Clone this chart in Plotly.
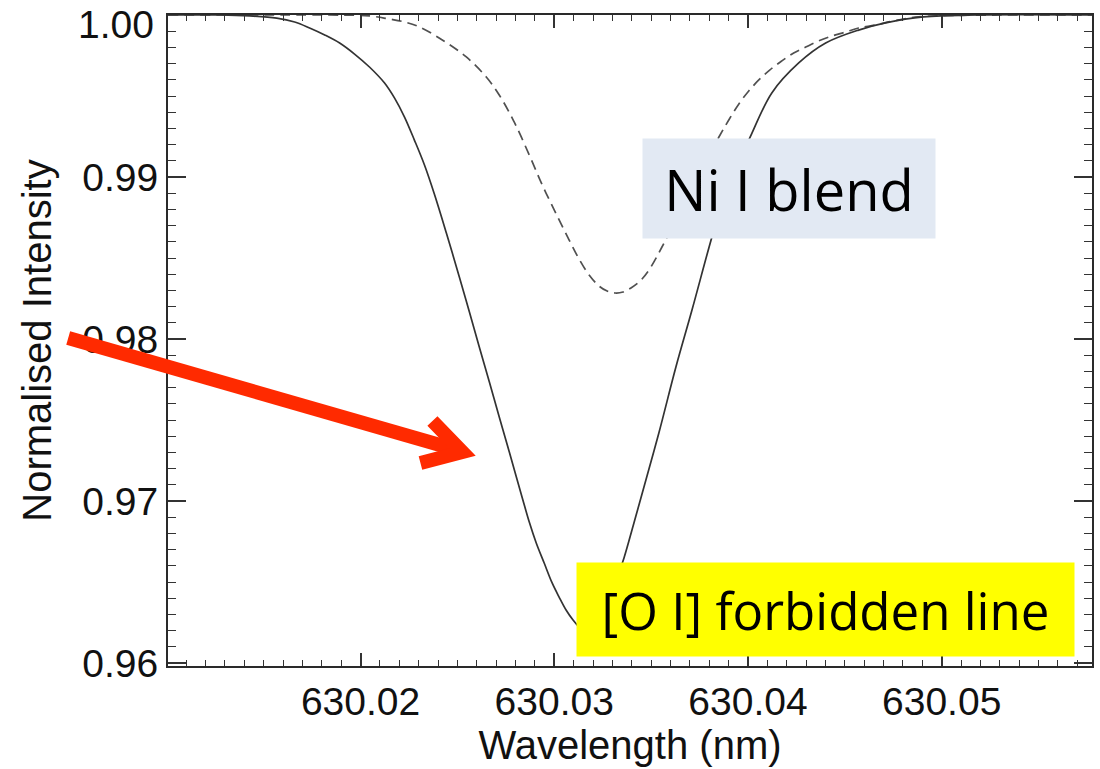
import plotly.graph_objects as go

# Solid profile: [O I] 630.03 nm line blended with Ni I
wl_total = [630.01006, 630.01274, 630.01428, 630.01567, 630.01660, 630.01737, 630.01815,
            630.01892, 630.01969, 630.02046, 630.02124, 630.02175, 630.02227, 630.02278,
            630.02330, 630.02381, 630.02443, 630.02510, 630.02562, 630.02613, 630.02665,
            630.02716, 630.02768, 630.02835, 630.02871, 630.02907, 630.02948, 630.02989,
            630.03025, 630.03061, 630.03097, 630.03128, 630.03154, 630.03190, 630.03231,
            630.03273, 630.03314, 630.03360, 630.03407, 630.03453, 630.03540, 630.03628,
            630.03711, 630.03814, 630.03875, 630.03942, 630.04004, 630.04123, 630.04262,
            630.04401, 630.04571, 630.04710, 630.04906, 630.05189, 630.05776]
int_total = [1.00000, 1.00000, 0.99994, 0.99981, 0.99957, 0.99920, 0.99877,
             0.99827, 0.99759, 0.99679, 0.99580, 0.99488, 0.99370, 0.99228,
             0.99074, 0.98895, 0.98654, 0.98383, 0.98167, 0.97951, 0.97735,
             0.97519, 0.97302, 0.97019, 0.96870, 0.96741, 0.96617, 0.96494,
             0.96407, 0.96327, 0.96265, 0.96222, 0.96198, 0.96216, 0.96272,
             0.96364, 0.96488, 0.96648, 0.96846, 0.97043, 0.97420, 0.97827,
             0.98179, 0.98630, 0.98870, 0.99080, 0.99228, 0.99519, 0.99704,
             0.99827, 0.99907, 0.99951, 0.99988, 1.00000, 1.00000]

# Dashed profile: Ni I blend alone
wl_ni = [630.01006, 630.01840, 630.02046, 630.02149, 630.02227, 630.02304, 630.02422,
         630.02546, 630.02649, 630.02716, 630.02793, 630.02871, 630.02938, 630.03010,
         630.03077, 630.03128, 630.03180, 630.03231, 630.03273, 630.03314, 630.03355,
         630.03396, 630.03443, 630.03489, 630.03556, 630.03618, 630.03695, 630.03772,
         630.03850, 630.03901, 630.03953, 630.04004, 630.04056, 630.04112, 630.04174,
         630.04236, 630.04298, 630.04365, 630.04432, 630.04504, 630.04571, 630.04658,
         630.04751, 630.04880, 630.05292, 630.05776]
int_ni = [1.00000, 1.00000, 0.99994, 0.99975, 0.99957, 0.99926, 0.99846,
          0.99741, 0.99617, 0.99506, 0.99340, 0.99136, 0.98951, 0.98772,
          0.98611, 0.98494, 0.98395, 0.98327, 0.98296, 0.98284, 0.98290,
          0.98315, 0.98358, 0.98426, 0.98568, 0.98716, 0.98901, 0.99074,
          0.99247, 0.99352, 0.99451, 0.99531, 0.99599, 0.99660, 0.99716,
          0.99765, 0.99802, 0.99840, 0.99870, 0.99895, 0.99920, 0.99938,
          0.99963, 0.99988, 1.00000, 1.00000]

x_ticks = [630.02, 630.03, 630.04, 630.05]
x_tick_text = ["630.02", "630.03", "630.04", "630.05"]
y_ticks = [0.96, 0.97, 0.98, 0.99, 1.00]
y_tick_text = ["0.96", "0.97", "0.98", "0.99", ""]   # top label drawn separately (nudged down)
y_top_label = "1.00"

label_ni = "Ni I blend"
label_oi = "[O I] forbidden line"

fig = go.Figure()
fig.add_trace(go.Scatter(x=wl_ni, y=int_ni, mode="lines",
                         line=dict(color="#505050", width=1.7, dash="10px,6px",
                                   shape="spline", smoothing=1.0),
                         showlegend=False))
fig.add_trace(go.Scatter(x=wl_total, y=int_total, mode="lines",
                         line=dict(color="#333333", width=1.7,
                                   shape="spline", smoothing=1.0),
                         showlegend=False))

FONT = "Liberation Sans, Arial, Helvetica, sans-serif"
axis_font = dict(family=FONT, size=39, color="#111111")
title_font = dict(family=FONT, size=40, color="#111111")

fig.update_xaxes(range=[630.01006, 630.05776], tickvals=x_ticks, ticktext=x_tick_text,
                 ticks="inside", ticklen=13, tickwidth=1.5, tickcolor="#333333",
                 minor=dict(dtick=0.001, tick0=630.02, ticks="inside", ticklen=6,
                            tickwidth=1.2, tickcolor="#333333"),
                 showline=True, linecolor="#2a2a2a", linewidth=2, mirror="ticks",
                 showgrid=False, zeroline=False, tickfont=axis_font,
                 title=dict(text="Wavelength (nm)", font=title_font, standoff=7))
fig.update_yaxes(range=[0.959815, 1.0000], tickvals=y_ticks, ticktext=y_tick_text,
                 ticks="inside", ticklen=18, tickwidth=1.5, tickcolor="#333333",
                 minor=dict(dtick=0.001, tick0=0.96, ticks="inside", ticklen=8,
                            tickwidth=1.2, tickcolor="#333333"),
                 showline=True, linecolor="#2a2a2a", linewidth=2, mirror="ticks",
                 showgrid=False, zeroline=False, tickfont=axis_font,
                 title=dict(text="Normalised Intensity", font=title_font, standoff=18))

# plot-area geometry for placing the overlay decorations (pixel -> paper)
L, R, T, B = 168, 1094, 15, 666
def px(xp):
    return (xp - L) / (R - L)
def py(yp):
    return (B - yp) / (B - T)

fig.add_annotation(text=y_top_label, xref="paper", yref="paper",
                   x=px(156), y=py(25), xanchor="right", yanchor="middle",
                   showarrow=False, font=axis_font)

# label boxes
fig.add_annotation(text=label_ni, xref="paper", yref="paper",
                   x=px(790.5), y=py(188.5), xanchor="center", yanchor="middle",
                   width=290, height=97, bgcolor="#e2e9f3", showarrow=False,
                   font=dict(family="Open Sans, sans-serif", size=56, color="#000000"))
fig.add_annotation(text=label_oi, xref="paper", yref="paper",
                   x=px(826.5), y=py(609.5), xanchor="center", yanchor="middle",
                   width=495, height=91, bgcolor="#ffff00", showarrow=False,
                   font=dict(family="Open Sans, sans-serif", size=51, color="#000000"))

# red arrow
red = "#ff2a00"
fig.add_shape(type="path", xref="paper", yref="paper",
              path=f"M {px(68)},{py(338)} L {px(458)},{py(450)}",
              line=dict(color=red, width=14))
fig.add_shape(type="path", xref="paper", yref="paper",
              path=f"M {px(433)},{py(421)} L {px(463)},{py(452)} L {px(421)},{py(463)}",
              line=dict(color=red, width=14))

fig.update_layout(width=1100, height=769, margin=dict(l=168, r=6, t=15, b=103),
                  plot_bgcolor="white", paper_bgcolor="white")

fig.write_html("out.html")
